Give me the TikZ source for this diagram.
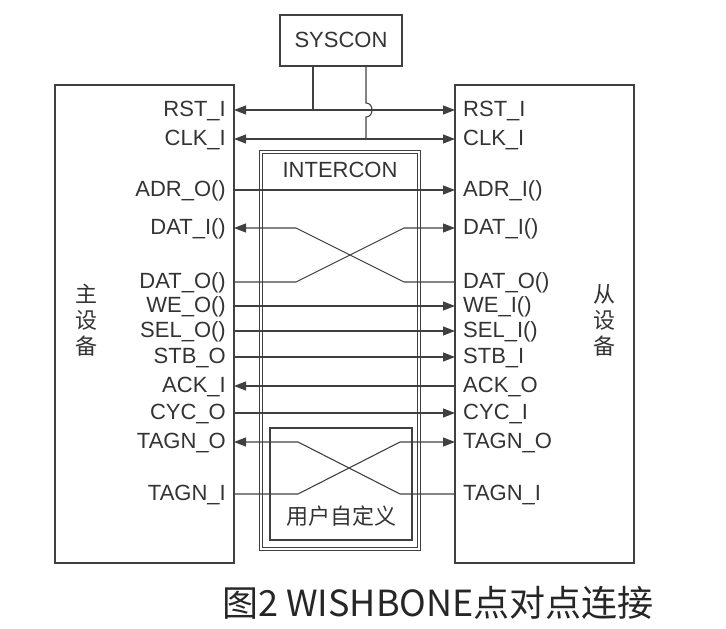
\documentclass[tikz,border=0pt]{standalone}
\usepackage{fontspec}
\setmainfont{Liberation Sans}
\newfontfamily\cjk{Noto Sans CJK SC}
\usetikzlibrary{arrows.meta}
\begin{document}
\begin{tikzpicture}[x=1pt,y=-1pt,
  box/.style={draw=black!75,line width=1.1pt},
  sig/.style={draw=black!75,line width=1.1pt},
  tip/.style={-{Triangle[length=12pt,width=9pt]}},
  lbl/.style={font=\fontsize{22}{22}\selectfont,text=black!80,inner sep=0pt},
  zh/.style={font=\cjk\fontsize{22}{26}\selectfont,text=black!80,inner sep=0pt}]
\useasboundingbox (0,0) rectangle (726,629);
% boxes
\draw[box] (55,85) rectangle (234,563);
\draw[box] (455,85) rectangle (634,563);
\draw[box] (280,15) rectangle (402,66);
\node[lbl] (sys) at (341,40) {SYSCON};
\draw[box,double=white,double distance=1.6pt,line width=0.8pt] (261,152) rectangle (419,549);
\node[lbl] (ic) at (340,170) {INTERCON};
\draw[box] (270,428) rectangle (412,540);
\node[zh] (ud) at (341,516) {用户自定义};
\node[zh,align=center] (m) at (86,320) {主\\设\\备};
\node[zh,align=center] (s) at (604,320) {从\\设\\备};
% coordinates
\foreach \n/\y in {rst/110,clk/139,adr/190,dati/228,dato/282,we/306,sel/331,stb/357,ack/386,cyc/413,tgo/442,tgi/494}{
  \coordinate (L\n) at (234,\y); \coordinate (R\n) at (455,\y);}
% labels
\foreach \n/\a/\b in {rst/RST\_I/RST\_I,clk/CLK\_I/CLK\_I,adr/ADR\_O()/ADR\_I(),dati/DAT\_I()/DAT\_I(),dato/DAT\_O()/DAT\_O(),we/WE\_O()/WE\_I(),sel/SEL\_O()/SEL\_I(),stb/STB\_O/STB\_I,ack/ACK\_I/ACK\_O,cyc/CYC\_O/CYC\_I,tgo/TAGN\_O/TAGN\_O,tgi/TAGN\_I/TAGN\_I}{
  \node[lbl,anchor=east] (l\n) at ([xshift=-8pt,yshift=-1pt]L\n) {\a};
  \node[lbl,anchor=west] (r\n) at ([xshift=8pt,yshift=-1pt]R\n) {\b};}
% syscon lines
\draw[sig,{Triangle[length=12pt,width=9pt]}-{Triangle[length=12pt,width=9pt]}] (Lrst) -- (Rrst);
\draw[sig,{Triangle[length=12pt,width=9pt]}-{Triangle[length=12pt,width=9pt]}] (Lclk) -- (Rclk);
\draw[sig] (313,66) -- (313,110);
\draw[sig] (366,66) -- (366,103) .. controls (374,103) and (374,117) .. (366,117) -- (366,139);
% straight signals
\draw[sig,tip] (Ladr) -- (Radr);
\draw[sig,tip] (Lwe) -- (Rwe);
\draw[sig,tip] (Lsel) -- (Rsel);
\draw[sig,tip] (Lstb) -- (Rstb);
\draw[sig,tip] (Lcyc) -- (Rcyc);
\draw[sig,tip] (Rack) -- (Lack);
% data crossing
\draw[sig,tip] (Rdato) -- (404,282) -- (296,228) -- (Ldati);
\draw[sig,tip] (Ldato) -- (296,282) -- (404,228) -- (Rdati);
% tag crossing
\draw[sig,tip] (Rtgi) -- (400,494) -- (298,442) -- (Ltgo);
\draw[sig,tip] (Ltgi) -- (298,494) -- (400,442) -- (Rtgo);
% caption
\node[font=\cjk\fontsize{36}{40}\selectfont,text=black!85,anchor=west,inner sep=0pt] (cap) at (222,603) {图2 WISHBONE点对点连接};
\end{tikzpicture}
\end{document}
